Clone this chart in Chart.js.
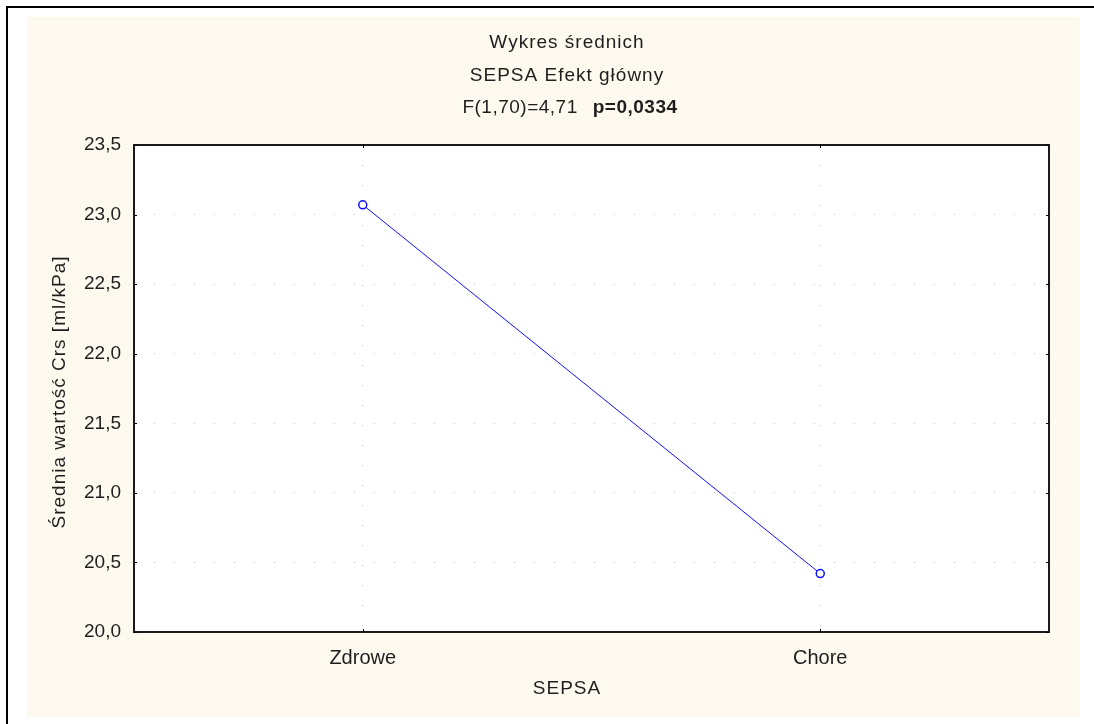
<!DOCTYPE html>
<html lang="pl">
<head>
<meta charset="utf-8">
<title>Wykres średnich – SEPSA</title>
<script src="https://cdn.jsdelivr.net/npm/chart.js@4/dist/chart.umd.min.js"></script>
<style>
  html, body { margin: 0; padding: 0; background: #ffffff; }
  canvas { display: block; }
</style>
</head>
<body>
<canvas id="chart" width="1094" height="724"></canvas>
<script>
// Group labels and the mean Crs value of each group
const categories = ['Zdrowe', 'Chore'];
const meanCrs = [23.07, 20.42];
// Value axis ticks
const yTicks = [20.0, 20.5, 21.0, 21.5, 22.0, 22.5, 23.0, 23.5];

const titleLines = ['Wykres średnich', 'SEPSA Efekt główny'];
const statText = 'F(1,70)=4,71';
const pText = 'p=0,0334';
const xTitle = 'SEPSA';
const yTitle = 'Średnia wartość Crs [ml/kPa]';

const FONT = '"Liberation Sans", Arial, sans-serif';
const TEXT = '#1e1e1e';
const CREAM = '#fdf9ee';

const fmt = v => v.toFixed(1).replace('.', ',');

// Window frame, cream panel and white plotting field
const backdrop = {
  id: 'backdrop',
  beforeDraw(chart) {
    const { ctx, chartArea: a } = chart;
    ctx.save();
    ctx.fillStyle = '#ffffff';
    ctx.fillRect(0, 0, chart.width, chart.height);
    ctx.fillStyle = '#000000';
    ctx.fillRect(6, 6, chart.width - 6, 2);
    ctx.fillRect(6, 6, 2, chart.height - 6);
    ctx.fillStyle = CREAM;
    ctx.fillRect(27, 17, 1053, 700);
    ctx.fillStyle = '#ffffff';
    ctx.fillRect(a.left, a.top, a.right - a.left, a.bottom - a.top);
    ctx.restore();
  },
  afterDraw(chart) {
    const { ctx, chartArea: a, scales } = chart;
    ctx.save();
    // frame of the plotting field
    ctx.strokeStyle = '#1a1a1a';
    ctx.lineWidth = 2;
    ctx.strokeRect(a.left, a.top, a.right - a.left, a.bottom - a.top);
    // inner tick marks on all four sides
    ctx.lineWidth = 1;
    ctx.strokeStyle = '#000000';
    ctx.beginPath();
    yTicks.forEach(v => {
      const y = Math.round(scales.y.getPixelForValue(v)) + 0.5;
      ctx.moveTo(a.left, y); ctx.lineTo(a.left + 3, y);
      ctx.moveTo(a.right - 3, y); ctx.lineTo(a.right, y);
    });
    categories.forEach((c, i) => {
      const x = Math.round(scales.x.getPixelForValue(i)) + 0.5;
      ctx.moveTo(x, a.bottom); ctx.lineTo(x, a.bottom - 3);
      ctx.moveTo(x, a.top); ctx.lineTo(x, a.top + 3);
    });
    ctx.stroke();

    // title block
    ctx.fillStyle = TEXT;
    ctx.textBaseline = 'middle';
    ctx.textAlign = 'center';
    ctx.letterSpacing = '1px';
    ctx.font = '19px ' + FONT;
    const cx = 567;
    ctx.fillText(titleLines[0], cx, 43);
    ctx.fillText(titleLines[1], cx, 76);
    const gap = 15;
    ctx.letterSpacing = '0.5px';
    const w1 = ctx.measureText(statText).width;
    ctx.font = 'bold 19px ' + FONT;
    const w2 = ctx.measureText(pText).width;
    let x0 = cx + 3 - (w1 + gap + w2) / 2;
    ctx.textAlign = 'left';
    ctx.font = '19px ' + FONT;
    ctx.fillText(statText, x0, 108);
    ctx.font = 'bold 19px ' + FONT;
    ctx.fillText(pText, x0 + w1 + gap, 108);

    // axis titles
    ctx.letterSpacing = '1px';
    ctx.font = '19px ' + FONT;
    ctx.textAlign = 'center';
    ctx.fillText(xTitle, cx, 689);
    ctx.translate(60, 392);
    ctx.rotate(-Math.PI / 2);
    ctx.fillText(yTitle, 0, 0);
    ctx.restore();
  }
};

new Chart(document.getElementById('chart'), {
  type: 'line',
  data: {
    labels: categories,
    datasets: [{
      data: meanCrs,
      borderColor: '#1010ff',
      borderWidth: 1,
      backgroundColor: '#ffffff',
      pointBorderColor: '#1010ff',
      pointBackgroundColor: '#ffffff',
      pointBorderWidth: 1.5,
      pointRadius: 4,
      tension: 0
    }]
  },
  options: {
    responsive: false,
    devicePixelRatio: 1,
    animation: false,
    layout: { padding: { left: 0, top: 145, right: 45, bottom: 0 } },
    plugins: { legend: { display: false }, title: { display: false }, tooltip: { enabled: false } },
    scales: {
      x: {
        type: 'category',
        offset: true,
        afterFit: s => { s.height = 92; },
        grid: { offset: false, drawTicks: false, color: '#c4c4c4', lineWidth: 1 },
        border: { display: false, dash: [1, 19] },
        ticks: { padding: 14, color: TEXT, font: { family: FONT, size: 20 } }
      },
      y: {
        min: 20,
        max: 23.5,
        afterFit: s => { s.width = 134; },
        afterBuildTicks: s => { s.ticks = yTicks.map(v => ({ value: v })); },
        grid: { drawTicks: false, color: '#c4c4c4', lineWidth: 1 },
        border: { display: false, dash: [1, 19] },
        ticks: { padding: 13, color: TEXT, font: { family: FONT, size: 19 }, callback: v => fmt(v) }
      }
    }
  },
  plugins: [backdrop]
});
</script>
</body>
</html>
